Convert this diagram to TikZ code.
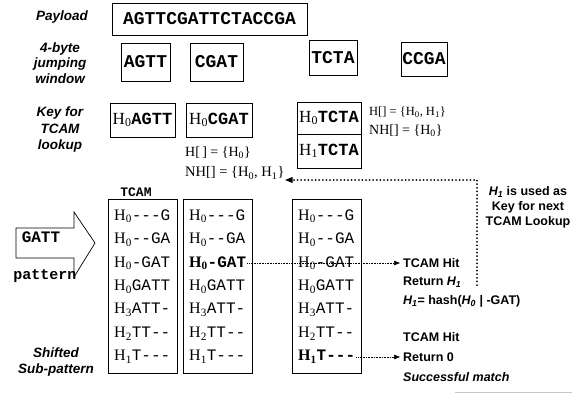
\documentclass[tikz,border=0pt]{standalone}
\usepackage{fontspec}
\setmainfont{Liberation Serif}
\setsansfont{Liberation Sans}
\setmonofont{Liberation Mono}
\usetikzlibrary{arrows.meta}

\newcommand{\hent}[2]{{\rmfamily H\textsubscript{#1}}#2}
\newcommand{\hkey}[2]{{\rmfamily\mdseries H\textsubscript{#1}}#2}

\tikzset{
  sidelbl/.style={font=\sffamily\bfseries\itshape\fontsize{13.5}{15.5}\selectfont, align=center, inner sep=0pt},
  seqbox/.style={draw, line width=0.9pt, inner sep=0pt, font=\ttfamily\bfseries\fontsize{18}{20}\selectfont},
  keybox/.style={draw, line width=0.9pt, inner sep=0pt, font=\ttfamily\bfseries\fontsize{17}{19}\selectfont},
  tcamcol/.style={draw, line width=0.8pt, minimum width=69pt, minimum height=174pt, inner sep=0pt, anchor=north west},
  entry/.style={anchor=west, inner sep=1pt, font=\ttfamily\fontsize{16}{18}\selectfont},
  hashtxt/.style={anchor=west, inner sep=0pt, font=\fontsize{14}{16}\selectfont},
  hitnote/.style={anchor=west, inner sep=3pt, font=\sffamily\bfseries\fontsize{12.5}{14}\selectfont},
  hitarrow/.style={-{Triangle[length=6pt,width=4.5pt]}, densely dotted, line width=0.6pt},
  feedback/.style={-{Triangle[length=8pt,width=5.5pt]}, line width=2pt, dash pattern=on 0pt off 3.6pt, line cap=round},
}

\begin{document}
\begin{tikzpicture}[x=1pt,y=-1pt]
  \useasboundingbox (0,0) rectangle (579,402);

  % labels on the left
  \node[sidelbl] (lpay) at (62,17) {Payload};
  \node[sidelbl] (lwin) at (60,63) {4-byte\\jumping\\window};
  \node[sidelbl,font=\sffamily\bfseries\itshape\fontsize{13.5}{16.5}\selectfont] (lkey) at (60,130) {Key for\\TCAM\\lookup};
  \node[sidelbl,font=\sffamily\bfseries\itshape\fontsize{13.5}{16}\selectfont] (lsub) at (56,362) {Shifted\\Sub-pattern};

  % payload and windows
  \node[seqbox,line width=1pt,minimum width=195pt,minimum height=32pt] (pay) at (209.5,19) {AGTTCGATTCTACCGA};
  \node[seqbox,minimum width=49pt,minimum height=38pt] (w1) at (145.5,62) {AGTT};
  \node[seqbox,minimum width=53pt,minimum height=38pt] (w2) at (216.5,62) {CGAT};
  \node[seqbox,minimum width=48pt,minimum height=35pt] (w3) at (333,57.5) {TCTA};
  \node[seqbox,minimum width=46pt,minimum height=34pt] (w4) at (424,59) {CCGA};

  % keys
  \node[keybox,minimum width=65pt,minimum height=34pt] (k1) at (142.5,120) {\hkey{0}{AGTT}};
  \node[keybox,minimum width=66pt,minimum height=34pt] (k2) at (219,120) {\hkey{0}{CGAT}};
  \node[keybox,minimum width=64pt,minimum height=32pt] (k3) at (329,118) {\hkey{0}{TCTA}};
  \node[keybox,minimum width=64pt,minimum height=34pt] (k4) at (329,151) {\hkey{1}{TCTA}};

  \node[hashtxt] (h2) at (185,153) {H[\,] = \{H\textsubscript{0}\}};
  \node[hashtxt,font=\fontsize{14.5}{16}\selectfont] (nh2) at (185,173) {NH[] = \{H\textsubscript{0}, H\textsubscript{1}\}};
  \node[hashtxt,font=\fontsize{12.5}{14}\selectfont] (h3) at (369,112) {H[] = \{H\textsubscript{0}, H\textsubscript{1}\}};
  \node[hashtxt] (nh3) at (369,131) {NH[] = \{H\textsubscript{0}\}};

  % input pattern
  \draw[line width=0.7pt] (16,228) -- (74,228) -- (74,212) -- (95,243)
    -- (74,277) -- (74,258) -- (16,258) -- cycle;
  \node[font=\ttfamily\bfseries\fontsize{16}{18}\selectfont,inner sep=0pt] (gatt) at (41,237) {GATT};
  \node[font=\ttfamily\bfseries\fontsize{15}{17}\selectfont,inner sep=0pt] (patt) at (45,276) {pattern};

  % TCAM columns
  \node[font=\ttfamily\bfseries\fontsize{13}{15}\selectfont,inner sep=0pt] (tcamhd) at (136,192) {TCAM};
  \foreach \cx/\cn/\br in {113/1/0,188/2/3,297/3/7} {
    \node[tcamcol] (tcam\cn) at (\cx-5,199) {};
    \foreach \hs/\tx [count=\i] in {0/---G,0/--GA,0/-GAT,0/GATT,3/ATT-,2/TT--,1/T---} {
      \ifnum\i=\br \def\fw{\bfseries}\else\def\fw{}\fi
      \node[entry] (c\cn r\i) at (\cx,{216+(\i-1)*23.5}) {\fw\hent{\hs}{\tx}};
    }
  }

  % results
  \node[hitnote] (hit1) at (400,263) {TCAM Hit};
  \node[hitnote] (ret1) at (400,282) {Return \textit{H\textsubscript{1}}};
  \node[hitnote] (hash1) at (400,301) {\textit{H\textsubscript{1}}= hash(\textit{H\textsubscript{0}} | -GAT)};
  \node[hitnote] (hit2) at (400,337) {TCAM Hit};
  \node[hitnote] (ret2) at (400,357) {Return 0};
  \node[hitnote] (succ) at (400,377) {\itshape Successful match};
  \node[hitnote,anchor=center,align=center,font=\sffamily\bfseries\fontsize{12.5}{15}\selectfont] (usednote) at (528,207)
    {\textit{H\textsubscript{1}} is used as\\Key for next\\TCAM Lookup};

  \draw[hitarrow] (c2r3.east) -- (c2r3.east -| hit1.west);
  \draw[hitarrow] (c3r7.east) -- (c3r7.east -| ret2.west);

  \coordinate (fbstart) at (477,285);
  \draw[feedback] (fbstart) |- ([yshift=-7pt]nh2.east);

  \draw[gray!45,line width=0.7pt] (455,392) -- (572,392);
\end{tikzpicture}
\end{document}
